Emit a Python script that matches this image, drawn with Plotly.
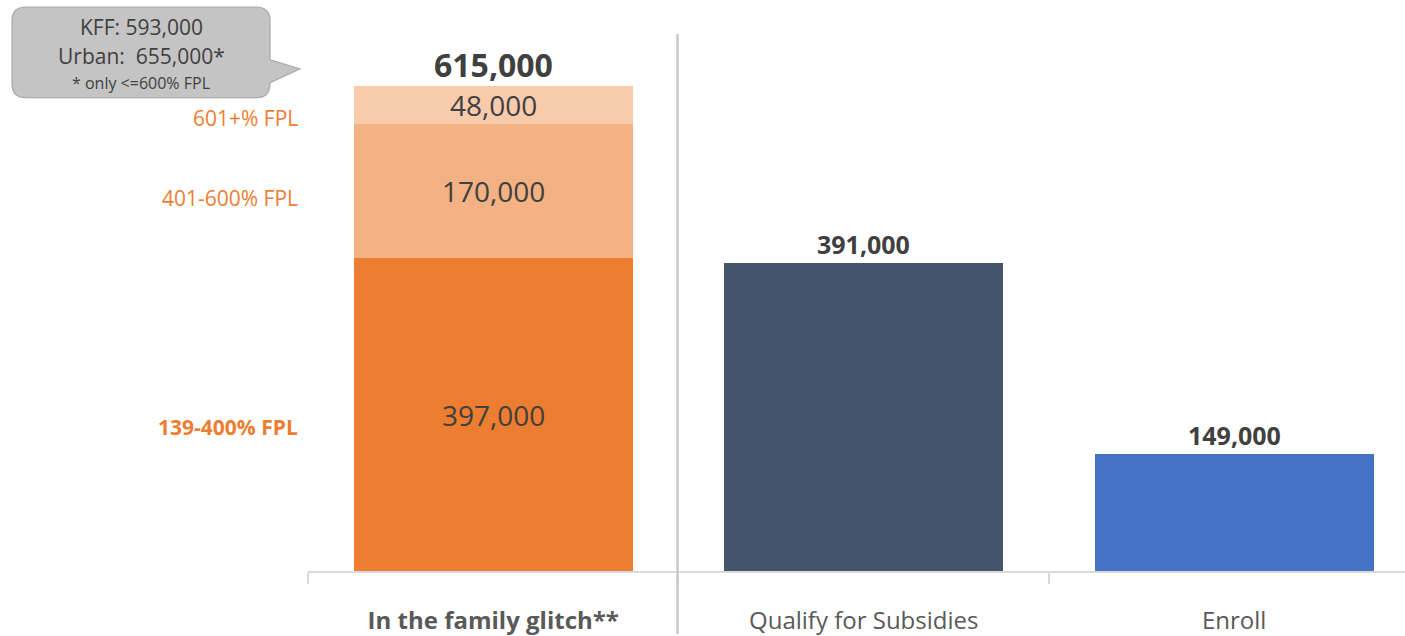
import plotly.graph_objects as go

W, H = 1405, 636

# Data
categories = ["In the family glitch**", "Qualify for Subsidies", "Enroll"]
tick_labels = ["<b>In the family glitch**</b>", "Qualify for Subsidies", "Enroll"]
fpl_bands = ["139-400% FPL", "401-600% FPL", "601+% FPL"]
glitch_values = [397000, 170000, 48000]
glitch_total = 615000
qualify_value = 391000
enroll_value = 149000
callout_lines = ["KFF: 593,000", "Urban:  655,000*", "* only <=600% FPL"]

band_colors = ["#ED7D31", "#F4B183", "#F8CBAD"]
qualify_color = "#44546A"
enroll_color = "#4472C4"
text_dark = "#404040"
orange = "#ED7D31"
FONT = "Open Sans"

fig = go.Figure()

# Stacked bands for the first category
for name, val, col in zip(fpl_bands, glitch_values, band_colors):
    fig.add_trace(go.Bar(x=[categories[0]], y=[val], name=name,
                         marker=dict(color=col, line=dict(width=0)),
                         width=0.753, hoverinfo="skip"))

fig.add_trace(go.Bar(x=[categories[1]], y=[qualify_value], marker=dict(color=qualify_color, line=dict(width=0)),
                     width=0.753, hoverinfo="skip"))
fig.add_trace(go.Bar(x=[categories[2]], y=[enroll_value], marker=dict(color=enroll_color, line=dict(width=0)),
                     width=0.753, hoverinfo="skip"))

ann = []
# Segment value labels
base = 0
mids = []
for val in glitch_values:
    mid = base + val / 2
    mids.append(mid)
    ann.append(dict(x=categories[0], y=mid, xref="x", yref="y", text=f"{val:,}",
                    showarrow=False, font=dict(family=FONT, size=28, color=text_dark)))
    base += val

# Totals
ann.append(dict(x=categories[0], y=glitch_total, xref="x", yref="y", text=f"<b>{glitch_total:,}</b>",
                showarrow=False, yanchor="bottom", yshift=-2,
                font=dict(family=FONT, size=32, color=text_dark)))
ann.append(dict(x=categories[1], y=qualify_value, xref="x", yref="y", text=f"<b>{qualify_value:,}</b>",
                showarrow=False, yanchor="bottom", yshift=0,
                font=dict(family=FONT, size=25, color=text_dark)))
ann.append(dict(x=categories[2], y=enroll_value, xref="x", yref="y", text=f"<b>{enroll_value:,}</b>",
                showarrow=False, yanchor="bottom", yshift=0,
                font=dict(family=FONT, size=25, color=text_dark)))

# Band labels to the left of the stacked bar
band_shift = [-12, -7, -13]
for i, (name, mid) in enumerate(zip(fpl_bands, mids)):
    txt = f"<b>{name}</b>" if i == 0 else name
    ann.append(dict(x=300 / W, y=mid, xref="paper", yref="y", text=txt, showarrow=False,
                    xanchor="right", yanchor="middle", yshift=band_shift[i],
                    font=dict(family=FONT, size=21, color=orange)))

# Callout bubble text
cx = 141 / W
for line, py, sz in zip(callout_lines, [27, 56, 83], [21, 21, 16]):
    ann.append(dict(x=cx, y=1 - py / H, xref="paper", yref="paper", text=line, showarrow=False,
                    xanchor="center", yanchor="middle",
                    font=dict(family=FONT, size=sz, color="#404040")))


def P(px, py):
    return f"{px / W:.5f},{1 - py / H:.5f}"


# Callout bubble outline (rounded box with pointer)
x0, x1, y0, y1, r = 12, 270, 7, 98, 14
path = (f"M {P(x0 + r, y0)} L {P(x1 - r, y0)} Q {P(x1, y0)} {P(x1, y0 + r)} "
        f"L {P(x1, 60)} L {P(300, 69)} L {P(x1, 83)} "
        f"L {P(x1, y1 - r)} Q {P(x1, y1)} {P(x1 - r, y1)} "
        f"L {P(x0 + r, y1)} Q {P(x0, y1)} {P(x0, y1 - r)} "
        f"L {P(x0, y0 + r)} Q {P(x0, y0)} {P(x0 + r, y0)} Z")

shapes = [
    dict(type="path", path=path, xref="paper", yref="paper",
         fillcolor="#c4c4c4", line=dict(color="#a8a8a8", width=1.2), layer="below"),
    # Separator between the first category and the rest
    dict(type="line", xref="paper", yref="paper", x0=677.5 / W, x1=677.5 / W,
         y0=0, y1=1 - 34 / H, line=dict(color="#c8c8c8", width=2.5)),
]

y_top = 573 * glitch_total / 487

fig.update_layout(
    width=W, height=H,
    margin=dict(l=0, r=0, t=0, b=0),
    paper_bgcolor="white", plot_bgcolor="white",
    barmode="stack", showlegend=False,
    annotations=ann, shapes=shapes,
    xaxis=dict(domain=[308 / W, 1], type="category", range=[-0.5, 2.461],
               tickmode="array", tickvals=categories, ticktext=tick_labels,
               tickson="boundaries", ticks="outside", ticklen=11, tickwidth=2,
               tickcolor="#d9d9d9", showline=True, linecolor="#d9d9d9", linewidth=2,
               showgrid=False, ticklabelstandoff=27,
               tickfont=dict(family=FONT, size=24, color="#595959")),
    yaxis=dict(domain=[63 / H, 1], range=[0, y_top], visible=False, showgrid=False),
)

fig.write_html("out.html")
